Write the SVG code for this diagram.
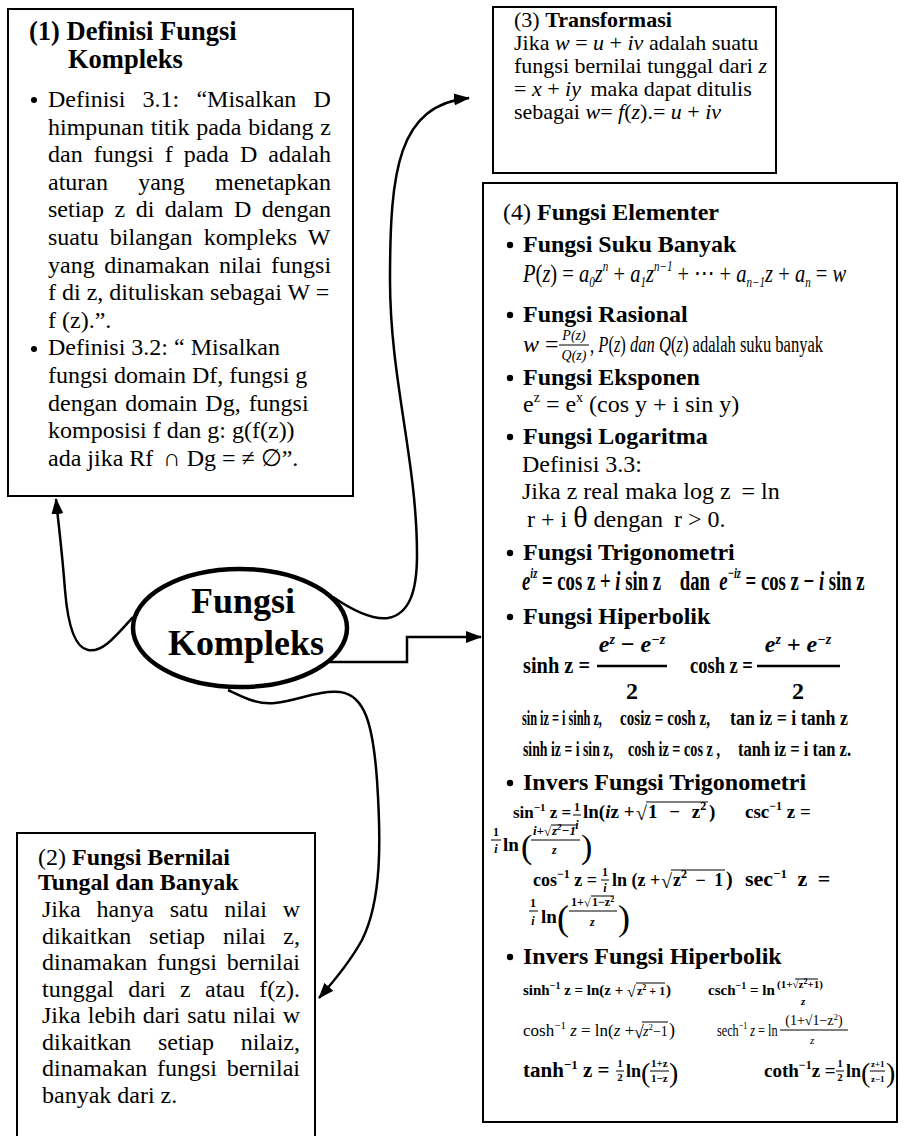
<svg xmlns="http://www.w3.org/2000/svg" width="904" height="1136" viewBox="0 0 904 1136">
<defs>
<marker id="arr" viewBox="0 0 16 12" refX="15" refY="6" markerWidth="16" markerHeight="12" markerUnits="userSpaceOnUse" orient="auto">
<path d="M0,0 L16,6 L0,12 Z" fill="#000"/>
</marker>
</defs>
<style>
.box{fill:#fff;stroke:#000;stroke-width:2}
text{font-family:"Liberation Serif","Times New Roman",serif;fill:#000}
.t{font-size:24px}
.m{font-size:22px}
.b{font-weight:bold}
.i{font-style:italic}
.n{font-style:normal}
.conn{fill:none;stroke:#000;stroke-width:2.5}
.fb{stroke:#000;stroke-width:1;fill:none}
.dot{fill:#000}
</style>
<rect width="904" height="1136" fill="#fff"/>

<g id="connectors">
<path class="conn" d="M133,617 C115,637 102,653 88,650 C72,647 67,615 65,590 C62,550 58,520 56,499" marker-end="url(#arr)"/>
<path class="conn" d="M333,597 C352,610 372,620 388,618 C410,614 417,590 417,555 C417,460 390,380 390,280 C390,170 398,105 469,98" marker-end="url(#arr)"/>
<path class="conn" d="M327,662 H407 V637 H481" stroke-width="3" marker-end="url(#arr)"/>
<path class="conn" d="M228,690 C245,698 258,705 275,703 C300,700 318,690 340,692 C365,695 373,725 377,780 C381,840 382,900 362,940 C350,962 335,980 319,998" marker-end="url(#arr)"/>
</g>

<g id="node-center">
<ellipse cx="240" cy="628" rx="107" ry="59" fill="#fff" stroke="#000" stroke-width="4.5"/>
<text class="b" x="243" y="613" font-size="36" text-anchor="middle">Fungsi</text>
<text class="b" x="246" y="655" font-size="36" text-anchor="middle">Kompleks</text>
</g>

<g id="node-definisi">
<rect class="box" x="8" y="9" width="345" height="487"/>
<text class="b" x="29" y="40" font-size="26.5">(1) Definisi Fungsi</text>
<text class="b" x="68" y="68" font-size="26.5">Kompleks</text>
<circle class="dot" cx="34" cy="100" r="3"/>
<text class="t" x="48" y="107" word-spacing="11.2">Definisi 3.1: “Misalkan D</text>
<text class="t" x="48" y="134.6" word-spacing="0.75">himpunan titik pada bidang z</text>
<text class="t" x="48" y="162.2" word-spacing="5">dan fungsi f pada D adalah</text>
<text class="t" x="48" y="189.8" word-spacing="24.2">aturan yang menetapkan</text>
<text class="t" x="48" y="217.4" word-spacing="4.5">setiap z di dalam D dengan</text>
<text class="t" x="48" y="245" word-spacing="5.2">suatu bilangan kompleks W</text>
<text class="t" x="48" y="272.6" word-spacing="3.5">yang dinamakan nilai fungsi</text>
<text class="t" x="48" y="300.2">f di z, dituliskan sebagai W =</text>
<text class="t" x="48" y="327.8">f (z).”.</text>
<circle class="dot" cx="34" cy="349" r="3"/>
<text class="t" x="48" y="355.4">Definisi 3.2: “ Misalkan</text>
<text class="t" x="48" y="383">fungsi domain Df, fungsi g</text>
<text class="t" x="48" y="410.6" word-spacing="2">dengan domain Dg, fungsi</text>
<text class="t" x="48" y="438.2">komposisi f dan g: g(f(z))</text>
<text class="t" x="48" y="465.8">ada jika Rf  <tspan dx="4">∩</tspan> Dg = ≠ ∅”.</text>
</g>

<g id="node-bernilai">
<rect class="box" x="17" y="833" width="298" height="320"/>
<text class="t" x="38" y="865">(2) <tspan class="b">Fungsi Bernilai</tspan></text>
<text class="t b" x="38" y="890">Tungal dan Banyak</text>
<text class="t" x="42" y="917" word-spacing="9.85">Jika hanya satu nilai w</text>
<text class="t" x="42" y="943.5" word-spacing="11.8">dikaitkan setiap nilai z,</text>
<text class="t" x="42" y="970" word-spacing="3.7">dinamakan fungsi bernilai</text>
<text class="t" x="42" y="996.5" word-spacing="8.35">tunggal dari z atau f(z).</text>
<text class="t" x="42" y="1023" word-spacing="1.1">Jika lebih dari satu nilai w</text>
<text class="t" x="42" y="1049.5" word-spacing="20.7">dikaitkan setiap nilaiz,</text>
<text class="t" x="42" y="1076" word-spacing="3.7">dinamakan fungsi bernilai</text>
<text class="t" x="42" y="1102.5">banyak dari z.</text>
</g>

<g id="node-transformasi">
<rect class="box" x="493" y="7" width="283" height="166"/>
<text class="m" x="514" y="27">(3) <tspan class="b">Transformasi</tspan></text>
<text class="m" x="514" y="50">Jika <tspan class="i">w</tspan> = <tspan class="i">u</tspan> + <tspan class="i">iv</tspan> adalah suatu</text>
<text class="m" x="514" y="73">fungsi bernilai tunggal dari <tspan class="i">z</tspan></text>
<text class="m" x="514" y="96">= <tspan class="i">x</tspan> + <tspan class="i">iy</tspan>  <tspan dx="4">maka dapat ditulis</tspan></text>
<text class="m" x="514" y="119">sebagai <tspan class="i">w</tspan>= <tspan class="i">f</tspan>(<tspan class="i">z</tspan>).= <tspan class="i">u</tspan> + <tspan class="i">iv</tspan></text>
</g>

<g id="node-elementer">
<rect class="box" x="483" y="183" width="414" height="939" stroke-width="2.5"/>
<text class="t" x="503" y="220">(4) <tspan class="b">Fungsi Elementer</tspan></text>

<circle class="dot" cx="510" cy="245" r="3.2"/>
<text class="t b" x="523" y="252">Fungsi Suku Banyak</text>
<text class="i" transform="translate(523,282) scale(0.79,1)" x="0" y="0" font-size="26">P<tspan class="n">(</tspan>z<tspan class="n">) = </tspan>a<tspan font-size="14" dy="5">0</tspan><tspan dy="-5">z</tspan><tspan font-size="14" dy="-11">n</tspan><tspan class="n" dy="11"> + </tspan>a<tspan font-size="14" dy="5">1</tspan><tspan dy="-5">z</tspan><tspan font-size="14" dy="-11">n−1</tspan><tspan class="n" dy="11"> + ⋯ + </tspan>a<tspan font-size="14" dy="5">n−1</tspan><tspan dy="-5">z</tspan><tspan class="n"> + </tspan>a<tspan font-size="14" dy="5">n</tspan><tspan class="n" dy="-5"> = </tspan>w</text>

<circle class="dot" cx="510" cy="315" r="3.2"/>
<text class="t b" x="523" y="322">Fungsi Rasional</text>
<text class="t" x="523" y="352"><tspan class="i">w</tspan> =</text>
<text class="i" x="574" y="340" font-size="14" text-anchor="middle">P(z)</text>
<line class="fb" x1="559" y1="345" x2="589" y2="345" stroke-width="1.3"/>
<text class="i" x="574" y="360" font-size="14" text-anchor="middle">Q(z)</text>
<text transform="translate(590,352) scale(0.69,1)" x="0" y="0" font-size="24">, <tspan class="i">P</tspan>(<tspan class="i">z</tspan>) <tspan class="i">dan Q</tspan>(<tspan class="i">z</tspan>) adalah suku banyak</text>

<circle class="dot" cx="510" cy="378" r="3.2"/>
<text class="t b" x="523" y="385">Fungsi Eksponen</text>
<text class="t" x="523" y="412">e<tspan font-size="14" dy="-10">z</tspan><tspan dy="10"> = e</tspan><tspan font-size="14" dy="-10">x</tspan><tspan dy="10"> (cos y + i sin y)</tspan></text>

<circle class="dot" cx="510" cy="437" r="3.2"/>
<text class="t b" x="523" y="444">Fungsi Logaritma</text>
<text class="t" x="522" y="472">Definisi 3.3:</text>
<text class="t" x="522" y="499">Jika z real maka log z <tspan dx="5">= ln</tspan></text>
<text class="t" x="527" y="527">r + i <tspan font-size="30">θ</tspan> dengan <tspan dx="5">r &gt; 0.</tspan></text>

<circle class="dot" cx="510" cy="553" r="3.2"/>
<text class="t b" x="523" y="560">Fungsi Trigonometri</text>
<text class="b" transform="translate(522,590) scale(0.694,1)" x="0" y="0" font-size="27"><tspan class="i">e</tspan><tspan class="i" font-size="15" dy="-12">iz</tspan><tspan dy="12"> = cos z + </tspan><tspan class="i">i</tspan> sin z&#8195;dan&#8194;<tspan class="i">e</tspan><tspan class="i" font-size="15" dy="-12">−iz</tspan><tspan dy="12"> = cos z − </tspan><tspan class="i">i</tspan> sin z</text>

<circle class="dot" cx="510" cy="617" r="3.2"/>
<text class="t b" x="523" y="624">Fungsi Hiperbolik</text>
<text class="b" transform="translate(523,673) scale(0.848,1)" x="0" y="0" font-size="24">sinh z =</text>
<text class="b i" x="632" y="652" font-size="24" text-anchor="middle">e<tspan font-size="14" dy="-8">z</tspan><tspan dy="8" class="n"> − </tspan>e<tspan font-size="14" dy="-8">−z</tspan></text>
<line x1="597" y1="666" x2="667" y2="666" stroke="#000" stroke-width="2.5"/>
<text class="b" x="632" y="699" font-size="24" text-anchor="middle">2</text>
<text class="b" transform="translate(690,673) scale(0.771,1)" x="0" y="0" font-size="24">cosh z =</text>
<text class="b i" x="798" y="652" font-size="24" text-anchor="middle">e<tspan font-size="14" dy="-8">z</tspan><tspan dy="8" class="n"> + </tspan>e<tspan font-size="14" dy="-8">−z</tspan></text>
<line x1="757" y1="666" x2="840" y2="666" stroke="#000" stroke-width="2.5"/>
<text class="b" x="798" y="699" font-size="24" text-anchor="middle">2</text>

<text class="b" transform="translate(522,725) scale(0.614,1)" x="0" y="0" font-size="20">sin iz = i sinh z,</text>
<text class="b" transform="translate(620,725) scale(0.755,1)" x="0" y="0" font-size="20">cosiz = cosh z,</text>
<text class="b" transform="translate(730,725) scale(0.894,1)" x="0" y="0" font-size="20">tan iz = i tanh z</text>
<text class="b" transform="translate(523,756) scale(0.69,1)" x="0" y="0" font-size="20">sinh iz = i sin z,</text>
<text class="b" transform="translate(628,756) scale(0.712,1)" x="0" y="0" font-size="20">cosh iz = cos z ,</text>
<text class="b" transform="translate(738,756) scale(0.826,1)" x="0" y="0" font-size="20">tanh iz = i tan z.</text>

<circle class="dot" cx="510" cy="783" r="3.2"/>
<text class="t b" x="523" y="790">Invers Fungsi Trigonometri</text>

<text class="b" x="513" y="818" font-size="17">sin<tspan font-size="11" dy="-7">−1</tspan><tspan dy="7"> z =</tspan></text>
<text class="b" x="577" y="811" font-size="12" text-anchor="middle">1</text>
<line class="fb" x1="573" y1="815" x2="581" y2="815"/>
<text class="b i" x="577" y="829" font-size="12" text-anchor="middle">i</text>
<text class="b" x="583" y="818" font-size="19">ln(<tspan class="i">i</tspan>z +</text>
<text x="636" y="820" font-size="20">√</text>
<line class="fb" x1="646" y1="802" x2="708" y2="802" stroke-width="1.3"/>
<text class="b" x="648" y="818" font-size="19" word-spacing="7">1 − z<tspan font-size="12" dy="-8">2</tspan></text>
<text class="b" x="709" y="818" font-size="19">)</text>
<text class="b" x="745" y="818" font-size="19">csc<tspan font-size="12" dy="-8">−1</tspan><tspan dy="8"> z =</tspan></text>

<text class="b" x="496" y="836" font-size="12" text-anchor="middle">1</text>
<line class="fb" x1="491" y1="840" x2="501" y2="840"/>
<text class="b i" x="496" y="853" font-size="12" text-anchor="middle">i</text>
<text class="b" x="503" y="851" font-size="19">ln</text>
<text x="521" y="858" font-size="34">(</text>
<text class="b i" x="533" y="835" font-size="13">i+</text>
<text x="544" y="836" font-size="13">√</text>
<line class="fb" x1="551" y1="825" x2="577" y2="825"/>
<text class="b i" x="552" y="835" font-size="13">z<tspan font-size="9" dy="-5">2</tspan><tspan dy="5">−1</tspan></text>
<line class="fb" x1="531" y1="840" x2="580" y2="840"/>
<text class="b i" x="552" y="854" font-size="12">z</text>
<text x="581" y="858" font-size="34">)</text>

<text class="b" x="533" y="886" font-size="18">cos<tspan font-size="12" dy="-8">−1</tspan><tspan dy="8"> z =</tspan></text>
<text class="b" x="605" y="876" font-size="12" text-anchor="middle">1</text>
<line class="fb" x1="601" y1="880" x2="609" y2="880"/>
<text class="b i" x="605" y="892" font-size="12" text-anchor="middle">i</text>
<text class="b" x="612" y="886" font-size="18">ln (z +</text>
<text x="661" y="888" font-size="20">√</text>
<line class="fb" x1="671" y1="870" x2="725" y2="870" stroke-width="1.3"/>
<text class="b" x="673" y="886" font-size="18" word-spacing="4">z<tspan font-size="12" dy="-8">2</tspan><tspan dy="8"> − 1</tspan></text>
<text class="b" x="726" y="886" font-size="20">)</text>
<text class="b" x="745" y="886" font-size="22" word-spacing="5">sec<tspan font-size="13" dy="-8">−1</tspan><tspan dy="8"> z =</tspan></text>

<text class="b" x="533" y="907" font-size="12" text-anchor="middle">1</text>
<line class="fb" x1="529" y1="911" x2="538" y2="911"/>
<text class="b i" x="533" y="925" font-size="12" text-anchor="middle">i</text>
<text class="b" x="541" y="923" font-size="19">ln</text>
<text x="557" y="930" font-size="36">(</text>
<text class="b" x="571" y="906" font-size="12">1+</text>
<text x="584" y="907" font-size="12">√</text>
<line class="fb" x1="591" y1="896" x2="614" y2="896"/>
<text class="b" x="592" y="906" font-size="12">1−z<tspan font-size="8" dy="-4">2</tspan></text>
<line class="fb" x1="569" y1="911" x2="617" y2="911"/>
<text class="b i" x="590" y="926" font-size="12">z</text>
<text x="618" y="930" font-size="36">)</text>

<circle class="dot" cx="510" cy="957" r="3.2"/>
<text class="t b" x="523" y="964">Invers Fungsi Hiperbolik</text>

<text class="b" x="523" y="995" font-size="15">sinh<tspan font-size="10" dy="-6">−1</tspan><tspan dy="6"> z = ln(z +</tspan></text>
<text x="627" y="997" font-size="16">√</text>
<line class="fb" x1="636" y1="983" x2="665" y2="983"/>
<text class="b" x="637" y="995" font-size="12">z<tspan font-size="8" dy="-5">2</tspan><tspan dy="5"> + 1</tspan></text>
<text class="b" x="666" y="995" font-size="15">)</text>
<text class="b" x="708" y="995" font-size="15">csch<tspan font-size="10" dy="-6">−1</tspan><tspan dy="6"> = ln</tspan></text>
<text class="b" x="800" y="988" font-size="11" text-anchor="middle">(1+√z<tspan font-size="8" dy="-4">2</tspan><tspan dy="4">+1)</tspan></text>
<line class="fb" x1="795" y1="979" x2="818" y2="979" stroke-width="0.8"/>
<text class="b i" x="801" y="1005" font-size="11">z</text>

<text x="523" y="1036" font-size="17">cosh<tspan font-size="11" dy="-7">−1</tspan><tspan dy="7" class="i"> z</tspan> = ln(<tspan class="i">z</tspan> +</text>
<text x="634" y="1038" font-size="18">√</text>
<line class="fb" x1="642" y1="1022" x2="668" y2="1022"/>
<text class="i" x="643" y="1036" font-size="14">z<tspan font-size="9" dy="-6" class="n">2</tspan><tspan dy="6" class="n">−1</tspan></text>
<text x="669" y="1036" font-size="18">)</text>
<text transform="translate(717,1036) scale(0.72,1)" x="0" y="0" font-size="17">sech<tspan font-size="11" dy="-7">−1</tspan><tspan dy="7" class="i"> z</tspan> = ln</text>
<text x="814" y="1025" font-size="14" text-anchor="middle">(1+√1−z<tspan font-size="9" dy="-5">2</tspan><tspan dy="5">)</tspan></text>
<line class="fb" x1="780" y1="1030" x2="848" y2="1030" stroke-width="0.8"/>
<text class="i" x="810" y="1044" font-size="11">z</text>

<text class="b" x="523" y="1077" font-size="21">tanh<tspan font-size="13" dy="-8">−1</tspan><tspan dy="8"> z =</tspan></text>
<text class="b" x="620" y="1067" font-size="11" text-anchor="middle">1</text>
<line class="fb" x1="616" y1="1071" x2="624" y2="1071"/>
<text class="b" x="620" y="1081" font-size="11" text-anchor="middle">2</text>
<text class="b" x="626" y="1077" font-size="18">ln</text>
<text x="641" y="1082" font-size="28">(</text>
<text class="b" x="651" y="1067" font-size="11">1+z</text>
<line class="fb" x1="650" y1="1071" x2="669" y2="1071"/>
<text class="b" x="651" y="1082" font-size="11">1−z</text>
<text x="669" y="1082" font-size="28">)</text>

<text class="b" x="764" y="1077" font-size="19">coth<tspan font-size="12" dy="-8">−1</tspan><tspan dy="8">z =</tspan></text>
<text class="b" x="840" y="1067" font-size="11" text-anchor="middle">1</text>
<line class="fb" x1="836" y1="1071" x2="844" y2="1071"/>
<text class="b" x="840" y="1081" font-size="11" text-anchor="middle">2</text>
<text class="b" x="846" y="1077" font-size="18">ln</text>
<text x="861" y="1082" font-size="28">(</text>
<text class="b" x="871" y="1067" font-size="9">z+1</text>
<line class="fb" x1="870" y1="1071" x2="885" y2="1071"/>
<text class="b" x="871" y="1082" font-size="9">z−1</text>
<text x="886" y="1082" font-size="28">)</text>
</g>
</svg>
